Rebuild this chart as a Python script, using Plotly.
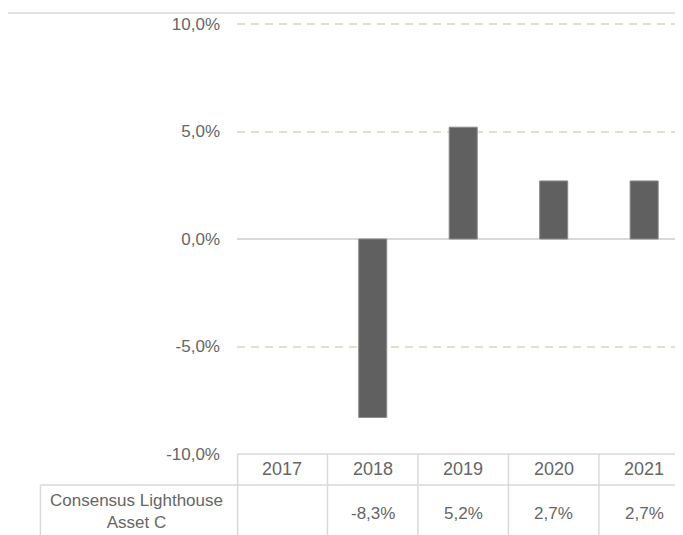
import plotly.graph_objects as go

# ---- data ----
categories = ["2017", "2018", "2019", "2020", "2021"]
values = [None, -8.3, 5.2, 2.7, 2.7]
series_name = "Consensus Lighthouse<br>Asset C"
tick_values = [-10, -5, 0, 5, 10]
tick_labels = ["-10,0%", "-5,0%", "0,0%", "5,0%", "10,0%"]

def fmt(v):
    return "" if v is None else f"{v:.1f}".replace(".", ",") + "%"

# ---- layout geometry (window pixels; page body has an 8px margin) ----
OFF = 8
W, H = 683 - OFF, 535 - OFF
px_per_unit = 21.5
plot_left, plot_top, plot_bottom = 237.4, 21, 454   # window coords
L = plot_left - OFF
T = plot_top - OFF
B = H - (plot_bottom - OFF)
PW, PH = W - L, H - T - B
cat_px = 90.4
y_top = -10 + (plot_bottom - plot_top) / px_per_unit

def py(p):  # window pixel y -> paper y
    return (plot_bottom - p) / PH

def px(p):  # window pixel x -> paper x
    return (p - plot_left) / PW

FONT = "Liberation Sans, Arial, sans-serif"
TXT = "#666666"
LINE = "#d9d9d9"

fig = go.Figure()
fig.add_trace(go.Bar(
    x=list(range(len(categories))), y=values,
    marker=dict(color="#606060", line=dict(color="#8a8a8a", width=1)),
    width=0.31, showlegend=False, hoverinfo="skip",
))

shapes = []
# outer chart border (top and left)
shapes.append(dict(type="line", xref="paper", yref="paper",
                   x0=px(7.5), x1=1.05, y0=py(13), y1=py(13),
                   line=dict(color=LINE, width=1.5)))
shapes.append(dict(type="line", xref="paper", yref="paper",
                   x0=px(7.5), x1=px(7.5), y0=py(13), y1=py(560),
                   line=dict(color=LINE, width=1.5)))
# table horizontal lines
shapes.append(dict(type="line", xref="paper", yref="paper",
                   x0=0, x1=1.05, y0=0, y1=0,
                   line=dict(color=LINE, width=1.5)))
shapes.append(dict(type="line", xref="paper", yref="paper",
                   x0=px(41), x1=1.05, y0=py(485), y1=py(485),
                   line=dict(color=LINE, width=1.5)))
# row label cell left edge
shapes.append(dict(type="line", xref="paper", yref="paper",
                   x0=px(41), x1=px(41), y0=py(485), y1=py(560),
                   line=dict(color=LINE, width=1.5)))
# column separators at category boundaries
for i in range(len(categories) + 1):
    shapes.append(dict(type="line", xref="x", yref="paper",
                       x0=i - 0.5, x1=i - 0.5, y0=0, y1=py(560),
                       line=dict(color=LINE, width=1.5)))
shapes.append(dict(type="line", xref="paper", yref="paper",
                   x0=0.0015, x1=0.0015, y0=0, y1=py(560),
                   line=dict(color=LINE, width=1.5)))

annotations = []
for i, (c, v) in enumerate(zip(categories, values)):
    annotations.append(dict(xref="x", yref="paper", x=i, y=py(469),
                            text=c, showarrow=False, yanchor="middle",
                            font=dict(family=FONT, size=18, color=TXT)))
    if v is not None:
        annotations.append(dict(xref="x", yref="paper", x=i, y=py(513),
                                text=fmt(v), showarrow=False, yanchor="middle",
                                font=dict(family=FONT, size=17, color=TXT)))
annotations.append(dict(xref="paper", yref="paper", x=px(137), y=py(511),
                        text=series_name, showarrow=False,
                        xanchor="center", yanchor="middle", align="center",
                        font=dict(family=FONT, size=17, color=TXT)))

fig.update_layout(
    width=W, height=H,
    margin=dict(l=L, r=0, t=T, b=B, pad=0),
    paper_bgcolor="white", plot_bgcolor="white",
    bargap=0.69,
    xaxis=dict(type="linear", range=[-0.5, -0.5 + PW / cat_px],
               showticklabels=False,
               showgrid=False, zeroline=False, showline=False, ticks="",
               fixedrange=True),
    yaxis=dict(range=[-10, y_top], tickvals=tick_values, ticktext=tick_labels,
               showgrid=True, gridcolor="#e3dfca", gridwidth=1.6,
               griddash="8px,6px",
               zeroline=True, zerolinecolor=LINE, zerolinewidth=2,
               showline=False, ticks="", ticklabelstandoff=16,
               tickfont=dict(family=FONT, size=17, color=TXT),
               fixedrange=True),
    shapes=shapes, annotations=annotations,
)

fig.write_html("out.html")
